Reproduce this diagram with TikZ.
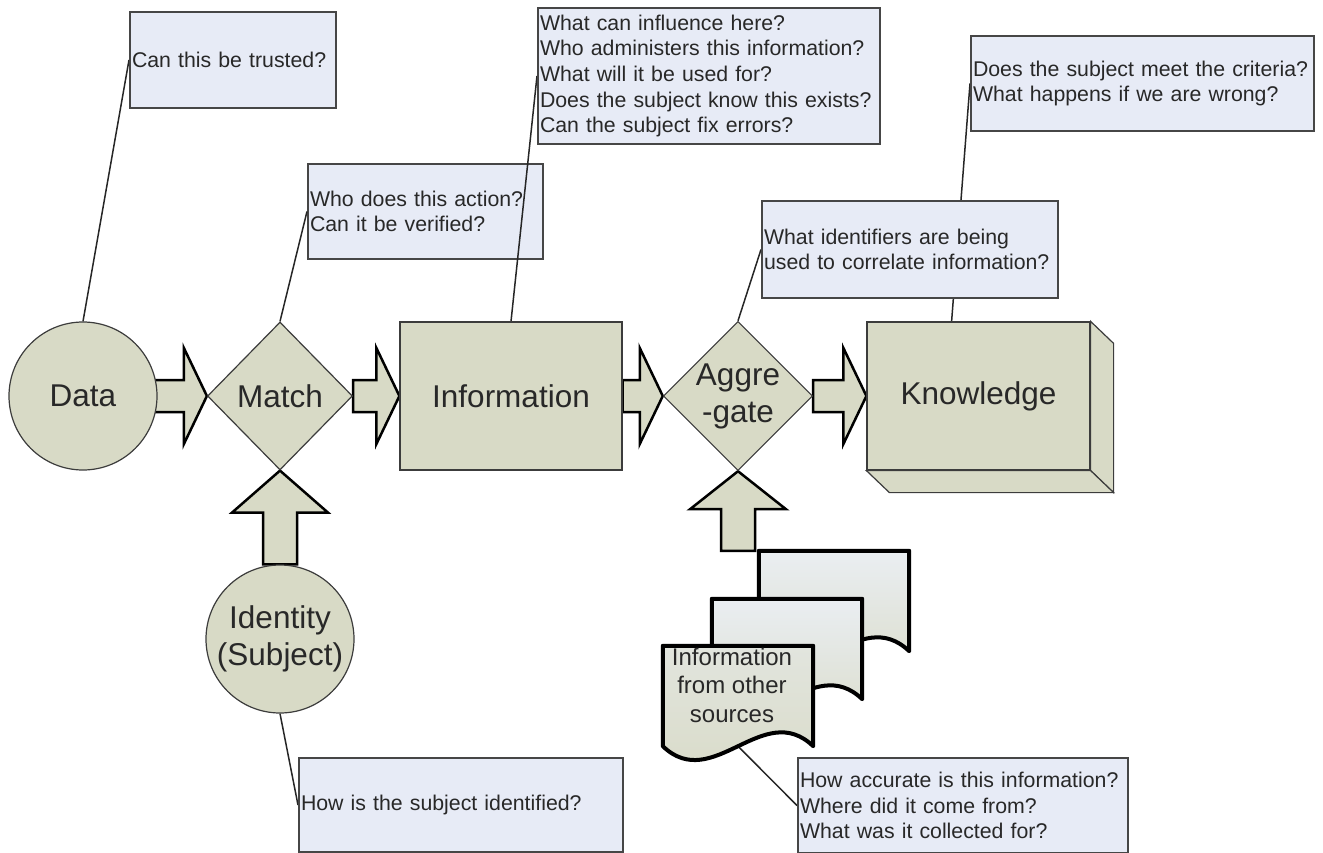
\documentclass[tikz,border=0pt]{standalone}
\usepackage{fontspec}
\setmainfont{Liberation Sans}
\usetikzlibrary{shapes.geometric,calc,backgrounds}

\definecolor{stagefill}{RGB}{216,218,198}
\definecolor{stageline}{RGB}{60,60,60}
\definecolor{notefill}{RGB}{231,235,246}
\definecolor{noteline}{RGB}{70,70,70}
\definecolor{sheettop}{RGB}{234,238,242}
\definecolor{inktext}{RGB}{40,40,40}

\tikzset{
	stage/.style={draw=stageline, fill=stagefill, line width=1.2pt, inner sep=0pt, text=inktext, font=\fontsize{31.5}{37}\selectfont, align=center},
	note/.style={draw=noteline, fill=notefill, line width=2pt, inner sep=2pt, text=inktext, font=\fontsize{21.3}{25.7}\selectfont, align=left, anchor=north west},
	blockarrow/.style={draw=black, fill=stagefill, line width=2.5pt, line join=miter},
	leader/.style={draw=black!85, line width=1.5pt},
	sheet/.style={draw=black, line width=4pt, bottom color=stagefill, line join=round}
}

\begin{document}
\begin{tikzpicture}[x=1pt,y=-1pt]
		\useasboundingbox (0,0) rectangle (1323,853);

		%Flujo principal
		\node[stage, circle, minimum size=148pt] (data) at (83,396) {Data};
		\node[stage, diamond, minimum width=145pt, minimum height=148pt] (match) at (280,396) {Match};
		\node[stage, minimum width=222pt, minimum height=148pt] (info) at (511,396) {Information};
		\node[stage, diamond, minimum width=143pt, minimum height=146pt] (aggr) at (738,396) {Aggre\\-gate};
		\node[stage, minimum width=223pt, minimum height=148pt] (know) at (978.5,396) {Knowledge};
		\draw[stage] (know.north east) -- ++(23,22) -- ($(know.south east)+(23,22)$) -- (know.south east) -- cycle;
		\draw[stage] (know.south west) -- ++(23,22) -- ($(know.south east)+(23,22)$) -- (know.south east) -- cycle;
		\node[stage, circle, minimum size=148pt] (ident) at (280,639) {Identity\\(Subject)};

		%Documentos
		\foreach \n/\x/\y/\t in {3/834/601/sheettop,2/787/649/sheettop,1/738/696/stagefill!45!sheettop}{
			\node[minimum width=150pt, minimum height=100pt, inner sep=0pt] (doc\n) at (\x,\y) {};
			\draw[sheet, top color=\t] (doc\n.north west) -- (doc\n.north east) -- (doc\n.south east) .. controls ($(doc\n.south east)+(-50,-48)$) and ($(doc\n.south west)+(50,48)$) .. (doc\n.south west) -- cycle;
		}
		\node[text=inktext, font=\fontsize{24}{28.5}\selectfont, align=center] (doctext) at (732,685) {Information\\from other\\sources};

		%Preguntas
		\node[note, text width=202pt, minimum height=96pt] (q1) at (129,11) {Can this be trusted?};
		\node[note, text width=338pt, minimum height=136pt] (q3) at (537,7) {What can influence here?\\Who administers this information?\\What will it be used for?\\Does the subject know this exists?\\Can the subject fix errors?};
		\node[note, text width=339pt, minimum height=95pt] (q4) at (970,35) {Does the subject meet the criteria?\\What happens if we are wrong?};
		\node[note, text width=292pt, minimum height=97pt] (q5) at (761,200) {What identifiers are being\\used to correlate information?};
		\node[note, text width=320pt, minimum height=94pt] (q6) at (298,757) {How is the subject identified?};
		\node[note, text width=326pt, minimum height=95pt] (q7) at (797,757) {How accurate is this information?\\Where did it come from?\\What was it collected for?};

		\begin{scope}[on background layer]
			%Flechas
			\foreach \s/\b in {data.center/match,match.east/info,info.east/aggr,aggr.east/know}
				\draw[blockarrow] ($(\s)+(0,-16)$) -- ($(\b.west)+(-23,-16)$) -- ($(\b.west)+(-23,-48)$) -- (\b.west) -- ($(\b.west)+(-23,48)$) -- ($(\b.west)+(-23,16)$) -- ($(\s)+(0,16)$) -- cycle;
			\draw[blockarrow] ($(ident.north)+(-17,0)$) -- ($(match.south)+(-17,42)$) -- ($(match.south)+(-48,42)$) -- (match.south) -- ($(match.south)+(48,42)$) -- ($(match.south)+(17,42)$) -- ($(ident.north)+(17,0)$) -- cycle;
			\coordinate (feed) at (aggr.south |- doc3.north);
			\draw[blockarrow] ($(feed)+(-17,0)$) -- ($(aggr.south)+(-17,38)$) -- ($(aggr.south)+(-48,38)$) -- (aggr.south) -- ($(aggr.south)+(48,38)$) -- ($(aggr.south)+(17,38)$) -- ($(feed)+(17,0)$) -- cycle;

			\node[note, text width=231pt, minimum height=95pt] (q2) at (307,163) {Who does this action?\\Can it be verified?};

			%Lineas
			\draw[leader] (data.north) -- (q1.west);
			\draw[leader] (match.north) -- (q2.west);
			\draw[leader] (info.north) -- (q3.west);
			\draw[leader] ($(know.north west)!0.38!(know.north east)$) -- (q4.west);
			\draw[leader] (aggr.north) -- (q5.west);
			\draw[leader] (ident.south) -- (q6.west);
			\draw[leader] (doc1.south) -- (q7.west);
		\end{scope}
	\end{tikzpicture}
\end{document}
